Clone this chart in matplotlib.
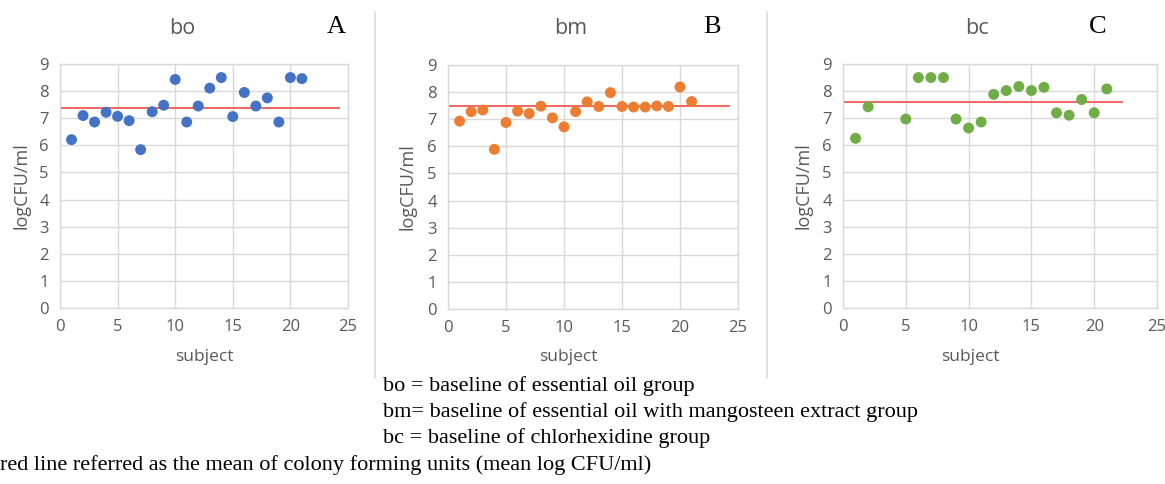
import matplotlib
matplotlib.use("Agg")
import matplotlib.pyplot as plt
from matplotlib.lines import Line2D

W, H = 1165, 484

# ── data (logCFU/ml per subject) ─────────────────────────────────────────────
bo_subject = list(range(1, 22))
bo_values = [6.21, 7.10, 6.86, 7.22, 7.07, 6.91, 5.84, 7.24, 7.48, 8.43, 6.86,
             7.45, 8.11, 8.50, 7.06, 7.95, 7.45, 7.75, 6.86, 8.50, 8.46]
bo_mean = 7.38

bm_subject = list(range(1, 22))
bm_values = [6.93, 7.28, 7.34, 5.89, 6.88, 7.30, 7.21, 7.48, 7.05, 6.72, 7.28,
             7.64, 7.47, 7.98, 7.47, 7.45, 7.45, 7.49, 7.47, 8.19, 7.65]
bm_mean = 7.47

bc_subject = [1, 2, 5, 6, 7, 8, 9, 10, 11, 12, 13, 14, 15, 16, 17, 18, 19, 20, 21]
bc_values = [6.26, 7.42, 6.97, 8.50, 8.50, 8.50, 6.97, 6.64, 6.86, 7.88, 8.02,
             8.17, 8.02, 8.14, 7.20, 7.11, 7.69, 7.20, 8.08]
bc_mean = 7.60

panels = [
    # name, letter, x, y, mean, mean line end, colour
    ("bo", "A", bo_subject, bo_values, bo_mean, 24.2, "#4472C4"),
    ("bm", "B", bm_subject, bm_values, bm_mean, 24.2, "#ED7D31"),
    ("bc", "C", bc_subject, bc_values, bc_mean, 22.2, "#70AD47"),
]

# pixel layout: axes (left, right, top, bottom), title x, letter x, ylabel x, xlabel x
layout = [
    (60, 348, 64, 308, 182, 336, 21, 204),
    (448, 738, 65, 309, 571, 712, 408, 568),
    (843, 1157, 64, 308, 977, 1098, 803, 970),
]
captions = [
    "bo = baseline of essential oil group",
    "bm= baseline of essential oil with mangosteen extract group",
    "bc = baseline of chlorhexidine group",
]
footnote = "red line referred as the mean of colony forming units (mean log CFU/ml)"

GREY = "#595959"
GRID = "#D9D9D9"
SANS = "Open Sans"
SERIF = "Liberation Serif"

fig = plt.figure(figsize=(W / 100, H / 100), dpi=100)


def fx(px):
    return px / W


def fy(py):
    return 1 - py / H


for (name, letter, xs, ys, mean, end, color), (l, r, t, b, tx, lx, yx, sx) in zip(panels, layout):
    ax = fig.add_axes([fx(l), fy(b), fx(r - l), (b - t) / H])
    ax.set_xlim(0, 25)
    ax.set_ylim(0, 9)
    ax.set_xticks(range(0, 26, 5))
    ax.set_yticks(range(0, 10))
    ax.grid(True, color=GRID, lw=1.0)
    ax.set_axisbelow(True)
    for s in ax.spines.values():
        s.set_color(GRID)
        s.set_linewidth(1.0)
    ax.tick_params(length=0, colors=GREY, labelsize=12, pad=8)
    for lab in ax.get_xticklabels() + ax.get_yticklabels():
        lab.set_fontfamily(SANS)
    ax.plot([0, end], [mean, mean], color="#EE5A55", lw=1.3, zorder=2)
    ax.scatter(xs, ys, s=62, color=color, edgecolors="none", zorder=3)

    fig.text(fx(tx), fy(28), name, ha="center", va="center", color=GREY,
             fontsize=15.5, family=SANS)
    fig.text(fx(lx), fy(27), letter, ha="center", va="center", color="black",
             fontsize=19, family=SERIF)
    fig.text(fx(yx), fy((t + b) / 2), "logCFU/ml", ha="center", va="center",
             rotation=90, color=GREY, fontsize=13, family=SANS)
    fig.text(fx(sx), fy(357), "subject", ha="center", va="center", color=GREY,
             fontsize=12.5, family=SANS)

# vertical separators between the three charts
for x in (375, 767):
    fig.add_artist(Line2D([fx(x), fx(x)], [fy(12), fy(378)], color="#D9D9D9", lw=1.2))

for i, line in enumerate(captions):
    fig.text(fx(383), fy(386 + 26 * i), line, ha="left", va="center",
             fontsize=16, family=SERIF, color="black")
fig.text(fx(0), fy(465), footnote, ha="left", va="center",
         fontsize=16, family=SERIF, color="black")

fig.savefig("out.png", dpi=100)
